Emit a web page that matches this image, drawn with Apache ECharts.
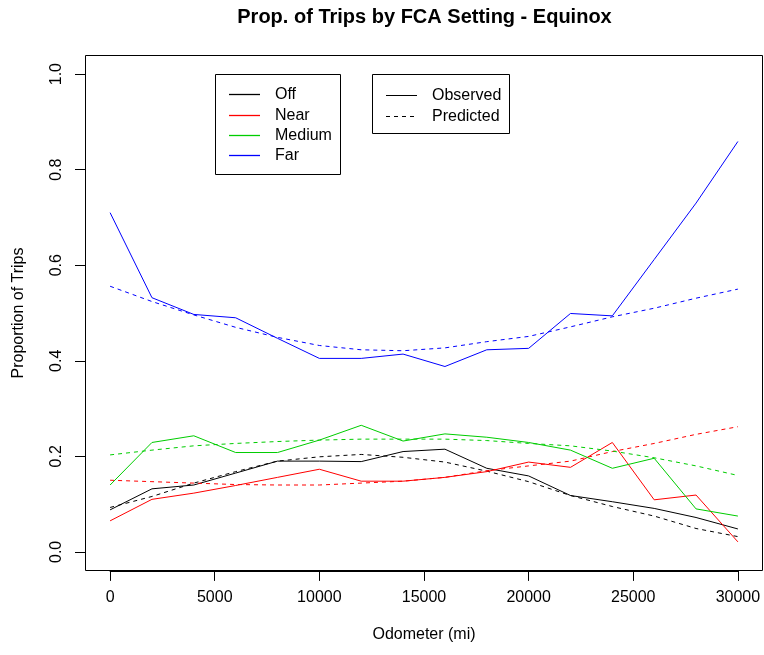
<!DOCTYPE html>
<html>
<head>
<meta charset="utf-8">
<script src="https://cdn.jsdelivr.net/npm/echarts@6/dist/echarts.min.js"></script>
<style>
html,body{margin:0;padding:0;background:#fff;}
#chart{width:764px;height:655px;}
</style>
</head>
<body>
<div id="chart"></div>
<script>
// ---- data ----
var odometer = [0,2000,4000,6000,8000,10000,12000,14000,16000,18000,20000,22000,24000,26000,28000,30000];
var offObserved  = [0.088,0.132,0.140,0.165,0.190,0.190,0.189,0.210,0.215,0.175,0.159,0.118,0.105,0.091,0.072,0.048];
var offPredicted = [0.093,0.116,0.144,0.168,0.190,0.199,0.204,0.198,0.188,0.169,0.147,0.118,0.095,0.075,0.049,0.032];
var nearObserved  = [0.065,0.110,0.123,0.139,0.156,0.173,0.148,0.148,0.156,0.168,0.188,0.177,0.229,0.109,0.119,0.021];
var nearPredicted = [0.150,0.147,0.144,0.141,0.140,0.140,0.144,0.148,0.156,0.170,0.180,0.190,0.210,0.227,0.246,0.262];
var mediumObserved  = [0.140,0.229,0.243,0.208,0.208,0.234,0.265,0.232,0.247,0.240,0.229,0.213,0.175,0.196,0.090,0.075];
var mediumPredicted = [0.203,0.213,0.222,0.227,0.231,0.234,0.236,0.236,0.236,0.233,0.227,0.222,0.211,0.197,0.180,0.160];
var farObserved  = [0.710,0.532,0.497,0.490,0.447,0.405,0.405,0.414,0.388,0.423,0.426,0.499,0.494,0.612,0.730,0.859];
var farPredicted = [0.556,0.524,0.496,0.470,0.449,0.432,0.423,0.421,0.427,0.440,0.451,0.471,0.492,0.510,0.531,0.550];
var xTicks = [0,5000,10000,15000,20000,25000,30000];
var yTicks = [0.0,0.2,0.4,0.6,0.8,1.0];
var settingNames = ['Off','Near','Medium','Far'];
var settingColors = ['#000000','#FF0000','#00CD00','#0000FF'];
var typeNames = ['Observed','Predicted'];

var FONT = '"Liberation Sans", Arial, Helvetica, sans-serif';

function pairs(ys){ return odometer.map(function(x,i){ return [x, ys[i]]; }); }
var obsSets = [offObserved, nearObserved, mediumObserved, farObserved];
var predSets = [offPredicted, nearPredicted, mediumPredicted, farPredicted];

var series = [];
for (var i = 0; i < 4; i++) {
  series.push({
    name: settingNames[i] + ' Observed', type: 'line', data: pairs(obsSets[i]),
    showSymbol: false, symbol: 'none', silent: true,
    lineStyle: {color: settingColors[i], width: 1, type: 'solid'}
  });
  series.push({
    name: settingNames[i] + ' Predicted', type: 'line', data: pairs(predSets[i]),
    showSymbol: false, symbol: 'none', silent: true,
    lineStyle: {color: settingColors[i], width: 1, type: [4,4]}
  });
}

// title, box and legend graphics
var graphics = [];
graphics.push({type:'text', style:{text:'Prop. of Trips by FCA Setting - Equinox', x:424.5, y:17, align:'center', verticalAlign:'middle', font:'bold 20px ' + FONT, fill:'#000'}});
graphics.push({type:'rect', shape:{x:85.5, y:55.5, width:677, height:515}, style:{fill:'none', stroke:'#000', lineWidth:1}, z:-1});
// legend 1
graphics.push({type:'rect', shape:{x:215.5, y:74.5, width:125, height:100}, style:{fill:'#fff', stroke:'#000', lineWidth:1}, z:10});
var rowY = [94.5, 115.5, 135.5, 155.5];
for (var k = 0; k < 4; k++) {
  graphics.push({type:'line', shape:{x1:229, y1:rowY[k], x2:260, y2:rowY[k]}, style:{stroke:settingColors[k], lineWidth:1.3}, z:11});
  graphics.push({type:'text', style:{text:settingNames[k], x:275, y:rowY[k], verticalAlign:'middle', font:'16px ' + FONT, fill:'#000'}, z:11});
}
// legend 2
graphics.push({type:'rect', shape:{x:372.5, y:74.5, width:137, height:59}, style:{fill:'#fff', stroke:'#000', lineWidth:1}, z:10});
var rowY2 = [95.5, 116.5];
for (var m = 0; m < 2; m++) {
  graphics.push({type:'line', shape:{x1:386, y1:rowY2[m], x2:417, y2:rowY2[m]}, style:{stroke:'#000', lineWidth:1, lineDash: m === 1 ? [4,4] : null}, z:11});
  graphics.push({type:'text', style:{text:typeNames[m], x:432, y:rowY2[m], verticalAlign:'middle', font:'16px ' + FONT, fill:'#000'}, z:11});
}

var chart = echarts.init(document.getElementById('chart'), null, {renderer:'canvas'});
chart.setOption({
  animation: false,
  backgroundColor: '#ffffff',
  grid: {left: 110.1, right: 26.1, top: 74.1, bottom: 103.1, show: false},
  xAxis: {
    type: 'value', min: xTicks[0], max: xTicks[xTicks.length-1], interval: xTicks[1]-xTicks[0],
    offset: 19, splitLine: {show:false},
    axisLine: {show:true, onZero:false, lineStyle:{color:'#000', width:1}},
    axisTick: {show:true, inside:false, length:10, lineStyle:{color:'#000'}},
    axisLabel: {show:true, margin:19, fontSize:16, fontFamily:FONT, color:'#000', showMinLabel:true, showMaxLabel:true,
      formatter: function(v){ return String(v); }},
    name: 'Odometer (mi)', nameLocation: 'middle', nameGap: 56,
    nameTextStyle: {fontSize:16, fontFamily:FONT, color:'#000'}
  },
  yAxis: {
    type: 'value', min: yTicks[0], max: yTicks[yTicks.length-1], interval: yTicks[1]-yTicks[0],
    offset: 25.1, splitLine: {show:false},
    axisLine: {show:true, onZero:false, lineStyle:{color:'#000', width:1}},
    axisTick: {show:true, inside:false, length:10, lineStyle:{color:'#000'}},
    axisLabel: {show:true, rotate:90, margin:20, fontSize:16, fontFamily:FONT, color:'#000',
      formatter: function(v){ return v.toFixed(1); }, showMinLabel:true, showMaxLabel:true},
    name: 'Proportion of Trips', nameLocation: 'middle', nameGap: 58, nameRotate: 90,
    nameTextStyle: {fontSize:16, fontFamily:FONT, color:'#000'}
  },
  series: series,
  graphic: graphics
});
</script>
</body>
</html>
